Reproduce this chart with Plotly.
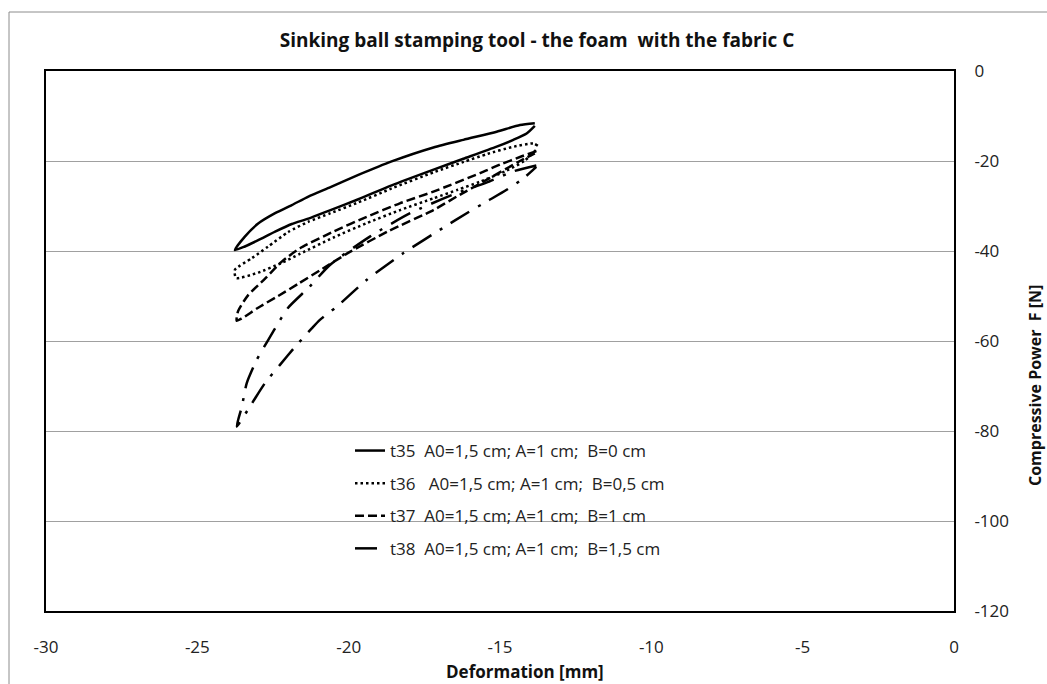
import plotly.graph_objects as go

# Hysteresis loops: each path runs from the right tip along the upper branch
# to the left tip and back along the lower branch.
t35_x = [-13.85, -14.34, -15.11, -16.21, -17.2, -18.58, -19.68, -20.6, -21.33, -21.88, -22.43, -22.99, -23.43, -23.76,
         -23.43, -22.99, -22.43, -21.88, -21.33, -20.6, -19.68, -18.58, -17.15, -16.21, -15.11, -14.56, -14.12, -13.85]
t35_y = [-11.6, -12.0, -13.5, -15.3, -17.0, -20.1, -23.1, -25.8, -27.9, -29.8, -31.6, -33.9, -36.8, -39.8,
         -39.0, -37.6, -35.7, -34.0, -32.8, -30.9, -28.5, -25.4, -21.8, -19.5, -16.8, -15.3, -13.9, -12.2]

t36_x = [-13.75, -13.9, -14.6, -15.4, -16.2, -17.15, -18.58, -19.68, -20.6, -21.33, -22.0, -22.66, -23.2, -23.76,
         -23.72, -22.99, -22.2, -21.6, -20.5, -19.4, -18.3, -17.2, -16.4, -15.66, -14.8, -14.2, -13.8]
t36_y = [-16.6, -16.1, -16.9, -18.4, -20.2, -22.4, -26.1, -29.2, -31.6, -33.5, -35.8, -39.0, -41.6, -44.2,
         -46.0, -44.8, -42.6, -40.6, -37.0, -33.8, -30.9, -28.3, -26.4, -24.6, -22.2, -20.0, -17.5]

t37_x = [-13.8, -14.3, -15.0, -15.66, -17.2, -18.31, -19.4, -20.51, -21.61, -22.2, -22.77, -23.32, -23.65, -23.7,
         -23.53, -22.99, -22.33, -21.67, -20.95, -19.96, -18.69, -17.2, -16.43, -15.34, -14.34, -13.85]
t37_y = [-17.8, -19.0, -20.8, -22.7, -26.8, -29.4, -32.4, -35.7, -39.4, -42.3, -46.2, -49.8, -53.3, -55.5,
         -55.0, -52.6, -50.0, -47.3, -44.3, -40.2, -35.6, -30.9, -27.9, -23.8, -20.0, -18.3]

t38_x = [-13.8, -14.56, -15.45, -16.49, -17.97, -19.3, -20.62, -21.3, -22.0, -22.43, -22.66, -23.04, -23.37, -23.53, -23.7,
         -23.2, -22.77, -22.27, -21.77, -21.22, -20.95, -20.4, -19.4, -18.2, -16.82, -16.1, -15.44, -14.78, -14.2, -13.8]
t38_y = [-21.0, -22.3, -24.8, -27.3, -31.6, -36.8, -43.1, -48.0, -52.6, -57.2, -59.8, -64.2, -69.4, -74.6, -79.0,
         -73.9, -69.4, -65.3, -61.3, -57.2, -55.3, -52.4, -46.4, -40.5, -34.6, -31.6, -29.0, -26.4, -23.7, -21.3]

NB = "\u00a0"
series_names = [
    f"t35{NB}{NB}A0=1,5 cm; A=1 cm;{NB}{NB}B=0 cm",
    f"t36{NB}{NB}{NB}A0=1,5 cm; A=1 cm;{NB}{NB}B=0,5 cm",
    f"t37{NB}{NB}A0=1,5 cm; A=1 cm;{NB}{NB}B=1 cm",
    f"t38{NB}{NB}A0=1,5 cm; A=1 cm;{NB}{NB}B=1,5 cm",
]
series_x = [t35_x, t36_x, t37_x, t38_x]
series_y = [t35_y, t36_y, t37_y, t38_y]
dashes = ["solid", "2.5px,3px", "9px,4px", "22px,10px,3px,10px"]

# Axis ticks (plain hyphen minus signs)
x_ticks = [-30, -25, -20, -15, -10, -5, 0]
x_ticktext = ["-30", "-25", "-20", "-15", "-10", "-5", "0"]
y_ticks = [0, -20, -40, -60, -80, -100, -120]
y_ticktext = ["0", "-20", "-40", "-60", "-80", "-100", "-120"]

FONT = "'Open Sans', sans-serif"
W, H = 1047, 684
ML, MR, MT, MB = 46, 93, 71, 73
PW, PH = W - ML - MR, H - MT - MB

fig = go.Figure()
for i, (name, xs, ys, dash) in enumerate(zip(series_names, series_x, series_y, dashes)):
    fig.add_trace(go.Scatter(
        x=xs, y=ys, mode="lines", name=name, legendgroup=f"g{i}",
        line=dict(color="black", width=2.5, dash=dash, shape="spline", smoothing=0.6),
    ))

fig.update_layout(
    width=W, height=H,
    margin=dict(l=ML, r=MR, t=MT, b=MB),
    paper_bgcolor="white", plot_bgcolor="white",
    font=dict(family=FONT, size=16, color="#222"),
    title=dict(text="<b>Sinking ball stamping tool - the foam" + NB + NB + "with the fabric C</b>",
               x=537 / W, xanchor="center", xref="container",
               y=1 - 40 / H, yanchor="middle", yref="container",
               font=dict(size=19, color="#111")),
    showlegend=True,
    legend=dict(x=(350 - ML) / PW, y=(MT + PH - 433) / PH, xanchor="left", yanchor="top",
                bgcolor="rgba(0,0,0,0)", borderwidth=0,
                font=dict(size=17, color="#222"), tracegroupgap=7.5),
    annotations=[
        dict(text="<b>Deformation [mm]</b>", xref="paper", yref="paper",
             x=(525 - ML) / PW, y=(MT + PH - 671) / PH, xanchor="center", yanchor="middle",
             showarrow=False, font=dict(size=17, color="#111")),
        dict(text="<b>Compressive Power" + NB + NB + "F [N]</b>", xref="paper", yref="paper",
             x=(1035 - ML) / PW, y=(MT + PH - 386) / PH, xanchor="center", yanchor="middle",
             textangle=-90, showarrow=False, font=dict(size=16, color="#111")),
    ],
    shapes=[
        dict(type="line", xref="paper", yref="paper",
             x0=(9 - ML) / PW, x1=(9 - ML) / PW, y0=-0.5, y1=(MT + PH - 12) / PH,
             line=dict(color="#8c8c8c", width=1)),
        dict(type="line", xref="paper", yref="paper",
             x0=(9 - ML) / PW, x1=1.5, y0=(MT + PH - 12) / PH, y1=(MT + PH - 12) / PH,
             line=dict(color="#8c8c8c", width=1)),
    ],
)

fig.update_xaxes(
    range=[-30, 0], tickvals=x_ticks, ticktext=x_ticktext, showgrid=False, zeroline=False,
    showline=True, linecolor="black", linewidth=2, mirror=True, automargin=False,
    ticks="", ticklabelstandoff=20, tickfont=dict(size=17),
)
fig.update_yaxes(
    range=[-120, 0], tickvals=y_ticks, ticktext=y_ticktext, side="right",
    showgrid=True, gridcolor="#a0a0a0", gridwidth=1, zeroline=False,
    showline=True, linecolor="black", linewidth=2, mirror=True, automargin=False,
    ticks="", ticklabelstandoff=15, tickfont=dict(size=17),
)

fig.write_html("out.html")
